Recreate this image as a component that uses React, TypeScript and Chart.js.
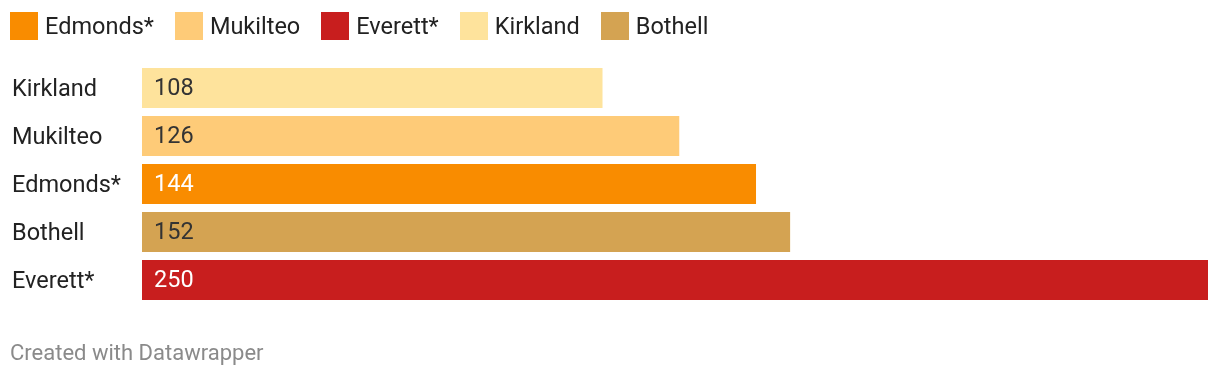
import React, { useEffect, useRef } from "react";
import { Chart, registerables } from "chart.js";

Chart.register(...registerables);

const categories = ["Kirkland", "Mukilteo", "Edmonds*", "Bothell", "Everett*"];
const values = [108, 126, 144, 152, 250];
const legendOrder = ["Edmonds*", "Mukilteo", "Everett*", "Kirkland", "Bothell"];
const axisMax = 250;

const colorOf: Record<string, string> = {
  "Edmonds*": "#F98C00",
  Mukilteo: "#FECB78",
  "Everett*": "#C81E1E",
  Kirkland: "#FEE39C",
  Bothell: "#D4A352",
};
const labelColorOf: Record<string, string> = {
  "Edmonds*": "#ffffff",
  Mukilteo: "#333333",
  "Everett*": "#ffffff",
  Kirkland: "#333333",
  Bothell: "#333333",
};

const FONT = "Roboto";
const FS = 23.5;

const valueLabels = {
  id: "valueLabels",
  afterDatasetsDraw(chart: any) {
    const ctx = chart.ctx;
    const meta = chart.getDatasetMeta(0);
    ctx.save();
    ctx.font = `${FS}px ${FONT}`;
    ctx.textBaseline = "middle";
    ctx.textAlign = "left";
    meta.data.forEach((bar: any, i: number) => {
      ctx.fillStyle = labelColorOf[categories[i]];
      ctx.fillText(String(values[i]), bar.base + 12, bar.y + 1.5);
    });
    ctx.restore();
  },
};

export default function App() {
  const ref = useRef<HTMLCanvasElement>(null);
  useEffect(() => {
    document.body.style.margin = "0";
    const chart = new Chart(ref.current!, {
      type: "bar",
      data: {
        labels: categories,
        datasets: [
          {
            data: values,
            backgroundColor: categories.map((c) => colorOf[c]),
            barPercentage: 40 / 48,
            categoryPercentage: 1,
            borderWidth: 0,
          },
        ],
      },
      options: {
        indexAxis: "y",
        responsive: false,
        animation: false,
        layout: { padding: { left: 12, right: 12, top: 64, bottom: 74 } },
        plugins: { legend: { display: false }, tooltip: { enabled: false } },
        scales: {
          x: { display: false, min: 0, max: axisMax },
          y: {
            grid: { display: false, drawTicks: false },
            border: { display: false },
            ticks: {
              crossAlign: "far",
              padding: 0,
              labelOffset: 2,
              color: "#222222",
              font: { family: FONT, size: FS },
            },
            afterFit(scale: any) {
              scale.width = 130;
            },
          },
        },
      },
      plugins: [valueLabels],
    } as any);
    return () => chart.destroy();
  }, []);

  return (
    <div style={{ position: "absolute", left: 0, top: 0, width: 1220, height: 378, background: "#fff", fontFamily: FONT }}>
      <canvas ref={ref} width={1220} height={378} style={{ position: "absolute", left: 0, top: 0 }} />
      <div style={{ position: "absolute", left: 10, top: 12, display: "flex", alignItems: "center", height: 28 }}>
        {legendOrder.map((c) => (
          <div key={c} style={{ display: "flex", alignItems: "center", marginRight: 21 }}>
            <div style={{ width: 28, height: 28, background: colorOf[c], marginRight: 7 }} />
            <span style={{ fontSize: FS, color: "#222", lineHeight: "28px" }}>{c}</span>
          </div>
        ))}
      </div>
      <div style={{ position: "absolute", left: 10, top: 340, fontSize: 22, color: "#8a8a8a", lineHeight: "26px" }}>
        Created with Datawrapper
      </div>
    </div>
  );
}
